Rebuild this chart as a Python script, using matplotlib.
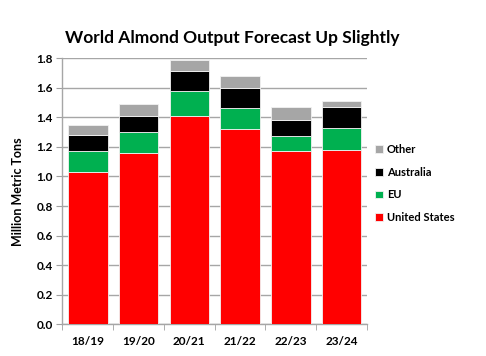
import matplotlib
matplotlib.use("Agg")
import matplotlib.pyplot as plt
import numpy as np

categories = ["18/19", "19/20", "20/21", "21/22", "22/23", "23/24"]
us = [1.03, 1.16, 1.41, 1.32, 1.17, 1.18]
eu = [0.14, 0.14, 0.17, 0.14, 0.10, 0.15]
australia = [0.11, 0.11, 0.13, 0.14, 0.11, 0.14]
other = [0.07, 0.08, 0.08, 0.08, 0.09, 0.04]
series_names = ["United States", "EU", "Australia", "Other"]
colors = ["#FF0000", "#00B050", "#000000", "#A6A6A6"]
yticks = [0.0, 0.2, 0.4, 0.6, 0.8, 1.0, 1.2, 1.4, 1.6, 1.8]

plt.rcParams['font.family'] = ['Lato', 'DejaVu Sans']

fig = plt.figure(figsize=(4.86, 3.56), dpi=100)
ax = fig.add_axes([0.1286, 0.0885, 0.6265, 0.7485])

x = np.arange(len(categories))
bottom = np.zeros(len(categories))
handles = []
for vals, name, c in zip([us, eu, australia, other], series_names, colors):
    h = ax.bar(x, vals, width=0.78, bottom=bottom, color=c, label=name,
               edgecolor="#F2F2F2", linewidth=0.6, zorder=3)
    handles.append(h)
    bottom += np.array(vals)

ax.set_xlim(-0.5, len(categories) - 0.5)
ax.set_ylim(0, 1.8)
ax.set_yticks(yticks)
ax.set_yticklabels([f"{v:.1f}" for v in yticks], fontsize=8.5, fontweight="bold")
ax.set_xticks(x)
ax.set_xticklabels(categories, fontsize=8.5, fontweight="bold")
ax.tick_params(axis="x", length=0, pad=8)
ax.set_xticks(np.arange(-0.5, len(categories) + 0.5, 1), minor=True)
ax.tick_params(axis="x", which="minor", length=4, color="#A0A0A0", direction="out")
ax.tick_params(axis="y", length=4, color="#A0A0A0", direction="out", pad=3)
ax.yaxis.grid(True, color="#A6A6A6", linewidth=1.0, zorder=0)
ax.set_axisbelow(True)
for s in ["top", "right"]:
    ax.spines[s].set_visible(False)
for s in ["left", "bottom"]:
    ax.spines[s].set_color("#A6A6A6")
    ax.spines[s].set_linewidth(1.0)

ax.set_ylabel("Million Metric Tons", fontsize=9, fontweight="bold", labelpad=9)
fig.text(0.478, 0.893, "World Almond Output Forecast Up Slightly", ha="center", va="center",
         fontsize=12.5, fontweight="bold")

leg = ax.legend(handles[::-1], series_names[::-1], loc="center left",
                bbox_to_anchor=(1.0, 0.529), frameon=False,
                prop={"weight": "bold", "size": 8}, handlelength=0.7, handleheight=0.7,
                handletextpad=0.4, labelspacing=1.05, borderaxespad=0.3)

fig.savefig("out.png", dpi=100)
